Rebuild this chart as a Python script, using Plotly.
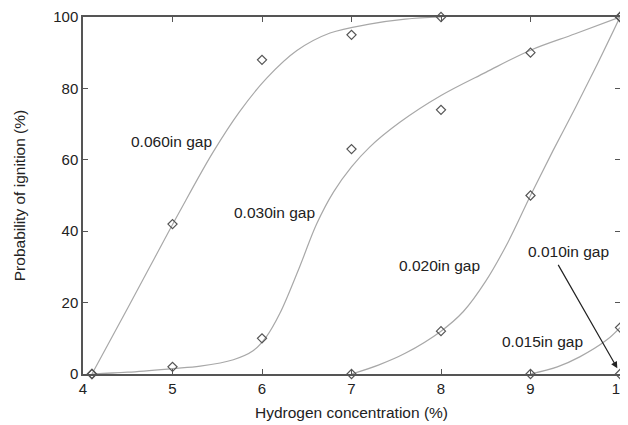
import plotly.graph_objects as go

# Measured data points (diamonds)
x060 = [4.1, 5, 6, 7, 8]
y060 = [0, 42, 88, 95, 100]
x030 = [4.1, 5, 6, 7, 8, 9, 10]
y030 = [0, 2, 10, 63, 74, 90, 100]
x020 = [7, 8, 9, 10]
y020 = [0, 12, 50, 100]
x015 = [9, 10]
y015 = [0, 13]
x010 = [10]
y010 = [0]

# Fitted curves, points
cx060 = [4.1, 4.5, 4.8, 5.08, 5.45, 5.75, 6.05, 6.39, 6.76, 7.2, 7.6, 8]
cy060 = [0, 18.5, 32.5, 45.5, 62, 73.5, 82.8, 90.6, 95.5, 98, 99.4, 100]
cx030 = [4.1, 4.5, 5, 5.31, 5.68, 5.9, 6.05, 6.2, 6.42, 6.61, 6.8, 7.0, 7.2, 7.54, 8, 8.5, 9, 9.5, 10]
cy030 = [0, 0.5, 1.5, 2.2, 4.0, 6.5, 10.5, 17, 30, 42, 51, 58, 63.5, 70.5, 78, 84.5, 90.7, 95.3, 100]
cx020 = [7, 7.3, 7.6, 8, 8.25, 8.5, 8.75, 9, 9.25, 9.5, 9.75, 10]
cy020 = [0, 2.5, 5.8, 12, 17.5, 26, 37, 50, 62.5, 74.5, 87, 100]
cx015 = [9, 9.3, 9.55, 9.85, 10]
cy015 = [0, 2, 4.8, 9.5, 13]

labels = ["0.060in gap", "0.030in gap", "0.020in gap", "0.010in gap", "0.015in gap"]
label_x = [4.99, 6.14, 7.98, 9.43, 9.13]
label_y = [65.1, 45.3, 30.3, 34.3, 9.0]

xticks = [4, 5, 6, 7, 8, 9, 10]
yticks = [0, 20, 40, 60, 80, 100]

FONT = "Arial, Liberation Sans, sans-serif"
curve_color = "#a8a8a8"
mark_color = "#555555"
axis_color = "#555555"

fig = go.Figure()
for cx, cy in [(cx060, cy060), (cx030, cy030), (cx020, cy020), (cx015, cy015)]:
    fig.add_trace(go.Scatter(x=cx, y=cy, mode="lines",
                             line=dict(color=curve_color, width=1.2, shape="spline", smoothing=1.0),
                             hoverinfo="skip", showlegend=False, cliponaxis=False))
for px, py in [(x060, y060), (x030, y030), (x020, y020), (x015, y015), (x010, y010)]:
    fig.add_trace(go.Scatter(x=px, y=py, mode="markers",
                             marker=dict(symbol="diamond-open", size=7, color=mark_color,
                                         line=dict(width=1.2, color=mark_color)),
                             showlegend=False, cliponaxis=False))

for t, lx, ly in zip(labels, label_x, label_y):
    fig.add_annotation(x=lx, y=ly, text=t, showarrow=False,
                       font=dict(family=FONT, size=15.5, color="#222222"))

fig.add_annotation(x=9.97, y=1.6, ax=9.30, ay=31, xref="x", yref="y", axref="x", ayref="y",
                   text="", showarrow=True, arrowhead=2, arrowsize=1.1, arrowwidth=1.2,
                   arrowcolor="#222222")

axis_common = dict(showline=True, linecolor=axis_color, linewidth=1.5, mirror="ticks",
                   ticks="inside", ticklen=5, tickcolor=axis_color, tickwidth=1,
                   showgrid=False, zeroline=False, automargin=False,
                   ticklabeloverflow="allow",
                   tickfont=dict(family=FONT, size=15, color="#222222"))

fig.update_xaxes(range=[4, 10], tickvals=xticks,
                 title=dict(text="Hydrogen concentration (%)", standoff=11,
                            font=dict(family=FONT, size=15.5, color="#222222")),
                 **axis_common)
fig.update_yaxes(range=[0, 100], tickvals=yticks,
                 title=dict(text="Probability of ignition (%)", standoff=24,
                            font=dict(family=FONT, size=15.5, color="#222222")),
                 **axis_common)

# page body has an 8px margin, so shift the figure up/left by that amount
fig.update_layout(width=620, height=417, margin=dict(l=75, r=8, t=9, b=51),
                  plot_bgcolor="white", paper_bgcolor="white")

fig.write_html("out.html")
